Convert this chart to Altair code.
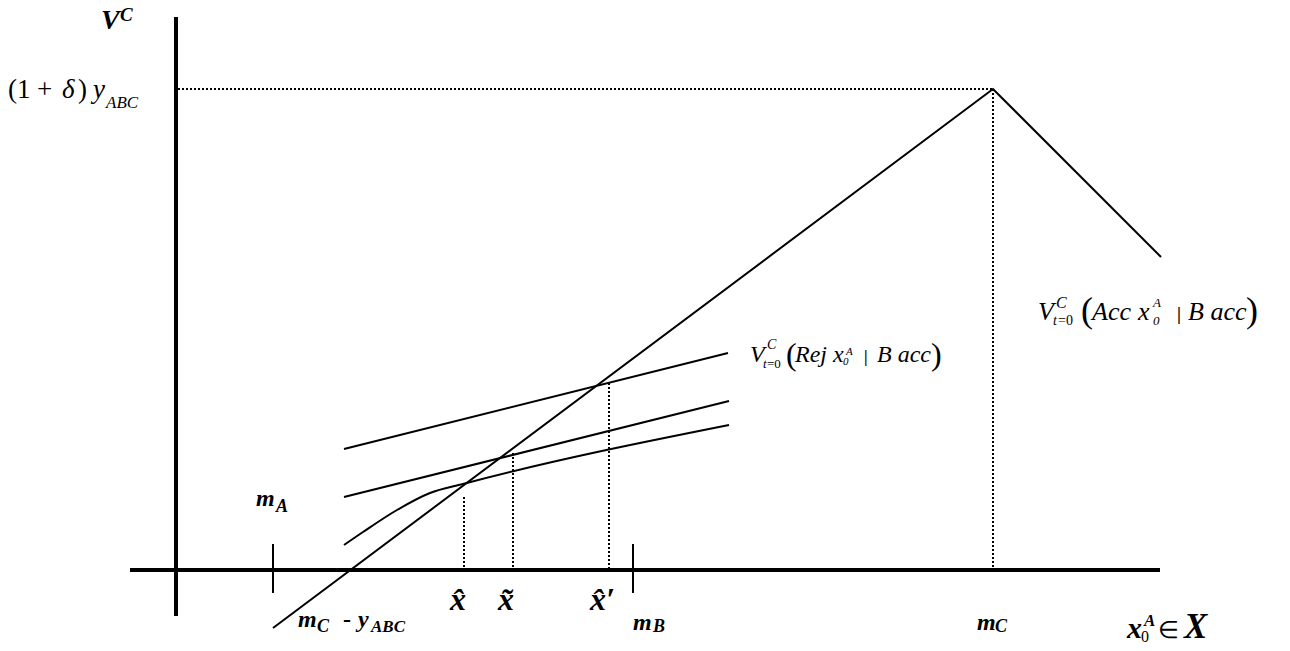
import altair as alt
import pandas as pd

# ---- data (abstract diagram units: x from the V axis, y from the x axis) ----
# solid curves
diag_x = [97, 817, 985]
diag_y = [-58, 481, 313]
top_x = [168, 552]
top_y = [121, 217]
mid_x = [168, 553]
mid_y = [73, 169]
low_x = [168, 187, 221, 254, 287, 553]
low_y = [25, 38, 60, 77, 86, 145]

# key abscissae
m_A, m_B, m_C = 97, 457, 817
peak = 481
x_hat, x_tilde, x_hat_p = 288, 337, 433
x_hat_top, x_tilde_top, x_hat_p_top = 73, 117, 187

X_DOM = [-168, 1106]
Y_DOM = [-73, 562]
W, H = 1274, 635

xs = alt.Scale(domain=X_DOM, nice=False, zero=False)
ys = alt.Scale(domain=Y_DOM, nice=False, zero=False)


def poly(name, xx, yy):
    return pd.DataFrame({"s": name, "o": list(range(len(xx))), "x": xx, "y": yy})


straight_df = pd.concat([poly("diag", diag_x, diag_y), poly("top", top_x, top_y),
                         poly("mid", mid_x, mid_y)], ignore_index=True)
curve_df = poly("low", low_x, low_y)

axes_df = pd.DataFrame([
    {"x": 0, "x2": 0, "y": -46, "y2": 553},
    {"x": -46, "x2": 984, "y": 0, "y2": 0},
])
ticks_df = pd.DataFrame([
    {"x": m_A, "x2": m_A, "y": 26, "y2": -23},
    {"x": m_B, "x2": m_B, "y": 26, "y2": -23},
])
dots_df = pd.DataFrame([
    {"x": 2, "x2": m_C, "y": peak, "y2": peak},
    {"x": m_C, "x2": m_C, "y": peak, "y2": 0},
    {"x": x_hat, "x2": x_hat, "y": x_hat_top, "y2": 0},
    {"x": x_tilde, "x2": x_tilde, "y": x_tilde_top, "y2": 0},
    {"x": x_hat_p, "x2": x_hat_p, "y": x_hat_p_top, "y2": 0},
])

# text pieces: text, x, y(baseline), size, style
# style: r=regular, i=italic, bi=bold italic, b=bold
texts = [
    ("V", -75, 541, 28, "bi"), ("C", -56, 549, 19, "bi"),
    ("(1", -168, 472, 27, "r"), ("+", -139, 472, 27, "r"), ("δ", -114, 472, 27, "i"),
    (")", -98, 472, 27, "r"),
    ("y", -83, 472, 27, "i"), ("ABC", -70, 462, 17, "i"),
    ("m", 80, 64, 24, "bi"), ("A", 100, 58, 18, "bi"),
    ("m", 122, -57, 24, "bi"), ("C", 141, -62, 18, "bi"), ("-", 167, -57, 24, "b"),
    ("y", 182, -57, 24, "bi"), ("ABC", 195, -62, 17, "bi"),
    ("x\u0302", 274, -40, 32, "bi"), ("x\u0303", 322, -40, 32, "bi"), ("x\u0302\u2032", 414, -40, 32, "bi"),
    ("m", 457, -60, 24, "bi"), ("B", 477, -62, 18, "bi"),
    ("m", 801, -60, 24, "bi"), ("C", 819, -62, 18, "bi"),
    ("x", 951, -68, 30, "bi"), ("0", 965, -72, 16, "r"), ("A", 968, -56, 17, "bi"),
    ("∈", 982, -68, 24, "r"), ("X", 1008, -68, 35, "bi"),
    # Rej label
    ("V", 574, 208, 24, "i"), ("C", 591, 221, 14, "i"), ("t", 587, 202, 13, "i"), ("=0", 591, 202, 13, "r"),
    ("(", 610, 205, 32, "r"), ("Rej", 619, 208, 24, "i"), ("x", 657, 208, 24, "i"),
    ("A", 670, 215, 11, "i"), ("0", 667, 205, 11, "i"), ("|", 688, 208, 16, "b"),
    ("B acc", 701, 208, 24, "i"), (")", 755, 205, 32, "r"),
    # Acc label
    ("V", 862, 250, 26, "i"), ("C", 880, 262, 16, "i"), ("t", 877, 245, 14, "i"), ("=0", 882, 245, 14, "r"),
    ("(", 905, 248, 36, "r"), ("Acc", 916, 250, 26, "i"), ("x", 962, 250, 26, "i"),
    ("A", 977, 263, 13, "i"), ("0", 977, 245, 13, "i"), ("|", 1001, 250, 18, "b"),
    ("B acc", 1012, 250, 26, "i"), (")", 1070, 248, 36, "r"),
]
text_df = pd.DataFrame(texts, columns=["t", "x", "y", "size", "st"])

FONT = "Liberation Serif"


def line_layer(df, interp):
    return alt.Chart(df).mark_line(color="black", strokeWidth=2, interpolate=interp).encode(
        x=alt.X("x:Q", scale=xs, axis=None),
        y=alt.Y("y:Q", scale=ys, axis=None),
        detail="s:N",
        order="o:Q",
    )


def rules(df, width, dash=None):
    kw = dict(color="black", strokeWidth=width)
    if dash:
        kw["strokeDash"] = dash
    return alt.Chart(df).mark_rule(**kw).encode(
        x=alt.X("x:Q", scale=xs, axis=None), x2="x2:Q",
        y=alt.Y("y:Q", scale=ys, axis=None), y2="y2:Q",
    )


layers = [rules(axes_df, 4), rules(ticks_df, 2), rules(dots_df, 2, [2, 2]),
          line_layer(straight_df, "linear"), line_layer(curve_df, "monotone")]

style_map = {"r": ("normal", "normal"), "i": ("italic", "normal"),
             "bi": ("italic", "bold"), "b": ("normal", "bold")}
for key, (fs, fw) in style_map.items():
    sub = text_df[text_df["st"] == key]
    if len(sub) == 0:
        continue
    layers.append(
        alt.Chart(sub).mark_text(font=FONT, fontStyle=fs, fontWeight=fw, align="left",
                                 baseline="alphabetic", color="black").encode(
            x=alt.X("x:Q", scale=xs, axis=None),
            y=alt.Y("y:Q", scale=ys, axis=None),
            text="t:N",
            size=alt.Size("size:Q", scale=None, legend=None),
        )
    )

chart = alt.layer(*layers).properties(
    width=W, height=H, padding=0, autosize="none"
).configure_view(stroke=None)

chart.save("out.html", embed_options={"renderer": "svg", "actions": False})
